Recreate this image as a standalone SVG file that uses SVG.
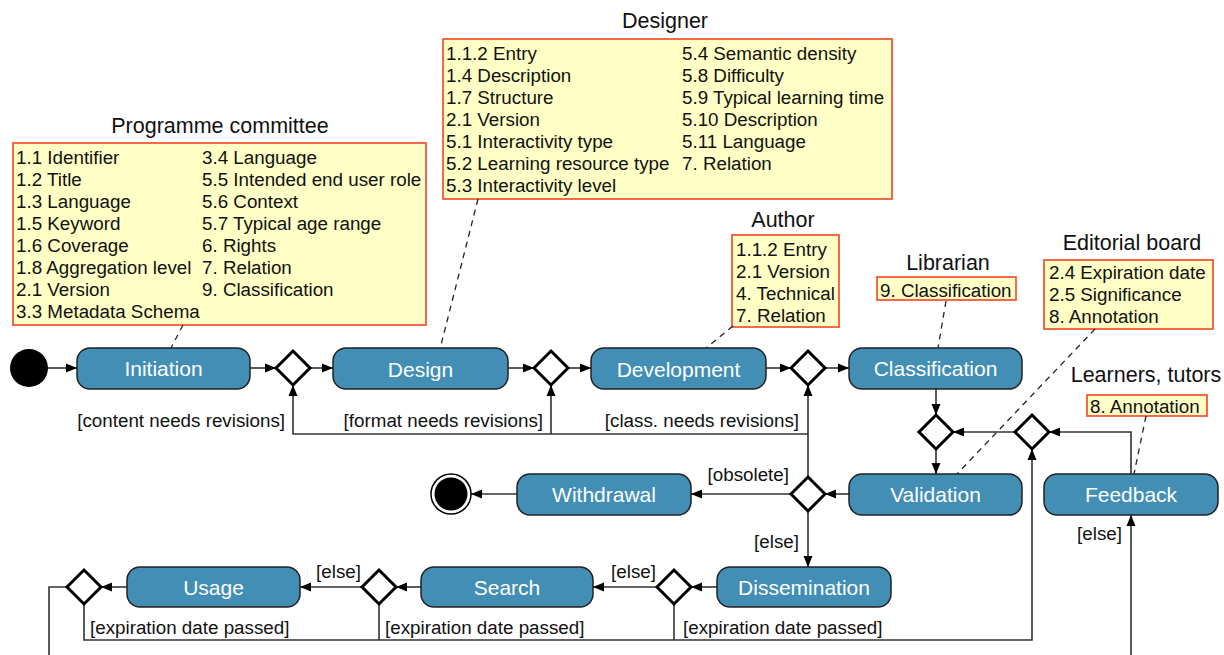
<svg xmlns="http://www.w3.org/2000/svg" width="1224" height="655" viewBox="0 0 1224 655">
<defs>
<marker id="arr" markerUnits="userSpaceOnUse" markerWidth="12" markerHeight="10" refX="11" refY="5" orient="auto">
<path d="M0,0.5 L11,5 L0,9.5 z" fill="#000"/>
</marker>
<style>
.node rect{fill:#428eb5;stroke:#222;stroke-width:1.5}
.node text{font-family:"Liberation Sans",Arial,sans-serif;font-size:21px;fill:#fff;text-anchor:middle}
.dia{fill:#fff;stroke:#000;stroke-width:3}
.con{fill:none;stroke:#333;stroke-width:1.6}
.dash{fill:none;stroke:#222;stroke-width:1.3;stroke-dasharray:6,5}
.note rect{fill:#ffffc6;stroke:#f2502c;stroke-width:1.7}
.note text{font-family:"Liberation Sans",Arial,sans-serif;font-size:18.8px;fill:#111}
.note .title{font-family:"Liberation Sans",Arial,sans-serif;font-size:21.5px;fill:#111;text-anchor:middle}
.guard{font-family:"Liberation Sans",Arial,sans-serif;font-size:18.8px;fill:#111}
.end{text-anchor:end}
</style>
</defs>
<rect width="1224" height="655" fill="#fff"/>

<!-- annotations -->
<g id="note-programme" class="note">
<text class="title" x="220" y="133">Programme committee</text>
<rect x="13" y="143" width="413" height="182"/>
<text x="16" y="164">1.1 Identifier</text>
<text x="16" y="186">1.2 Title</text>
<text x="16" y="208">1.3 Language</text>
<text x="16" y="230">1.5 Keyword</text>
<text x="16" y="252">1.6 Coverage</text>
<text x="16" y="274">1.8 Aggregation level</text>
<text x="16" y="296">2.1 Version</text>
<text x="16" y="318">3.3 Metadata Schema</text>
<text x="202" y="164">3.4 Language</text>
<text x="202" y="186">5.5 Intended end user role</text>
<text x="202" y="208">5.6 Context</text>
<text x="202" y="230">5.7 Typical age range</text>
<text x="202" y="252">6. Rights</text>
<text x="202" y="274">7. Relation</text>
<text x="202" y="296">9. Classification</text>
</g>
<g id="note-designer" class="note">
<text class="title" x="665" y="28">Designer</text>
<rect x="443" y="39" width="449" height="160"/>
<text x="446" y="60">1.1.2 Entry</text>
<text x="446" y="82">1.4 Description</text>
<text x="446" y="104">1.7 Structure</text>
<text x="446" y="126">2.1 Version</text>
<text x="446" y="148">5.1 Interactivity type</text>
<text x="446" y="170">5.2 Learning resource type</text>
<text x="446" y="192">5.3 Interactivity level</text>
<text x="682" y="60">5.4 Semantic density</text>
<text x="682" y="82">5.8 Difficulty</text>
<text x="682" y="104">5.9 Typical learning time</text>
<text x="682" y="126">5.10 Description</text>
<text x="682" y="148">5.11 Language</text>
<text x="682" y="170">7. Relation</text>
</g>
<g id="note-author" class="note">
<text class="title" x="783" y="227">Author</text>
<rect x="732" y="235" width="107" height="92"/>
<text x="736" y="256">1.1.2 Entry</text>
<text x="736" y="278">2.1 Version</text>
<text x="736" y="300">4. Technical</text>
<text x="736" y="322">7. Relation</text>
</g>
<g id="note-librarian" class="note">
<text class="title" x="948" y="270">Librarian</text>
<rect x="877" y="277" width="139" height="23"/>
<text x="880" y="297">9. Classification</text>
</g>
<g id="note-editorial" class="note">
<text class="title" x="1132" y="250">Editorial board</text>
<rect x="1044" y="260" width="169" height="69"/>
<text x="1049" y="279">2.4 Expiration date</text>
<text x="1049" y="301">2.5 Significance</text>
<text x="1049" y="323">8. Annotation</text>
</g>
<g id="note-learners" class="note">
<text class="title" x="1146" y="382">Learners, tutors</text>
<rect x="1087" y="395" width="120" height="21"/>
<text x="1090" y="413">8. Annotation</text>
</g>

<!-- connectors -->
<g id="connectors">
<path class="dash" d="M183,325 L171,348"/>
<path class="dash" d="M478,199 L440,349"/>
<path class="dash" d="M733,326 L706,348"/>
<path class="dash" d="M946,301 L938,348"/>
<path class="dash" d="M1095,329 L957,474"/>
<path class="dash" d="M1146,416 L1134,474"/>

<path class="con" d="M48,368 L77,368" marker-end="url(#arr)"/>
<path class="con" d="M250,368 L276,368" marker-end="url(#arr)"/>
<path class="con" d="M310,368 L333,368" marker-end="url(#arr)"/>
<path class="con" d="M508,368 L534,368" marker-end="url(#arr)"/>
<path class="con" d="M568,368 L591,368" marker-end="url(#arr)"/>
<path class="con" d="M766,368 L791,368" marker-end="url(#arr)"/>
<path class="con" d="M825,368 L849,368" marker-end="url(#arr)"/>
<path class="con" d="M936,389 L936,415" marker-end="url(#arr)"/>
<path class="con" d="M936,449 L936,474" marker-end="url(#arr)"/>
<path class="con" d="M1015,432 L953,432" marker-end="url(#arr)"/>
<path class="con" d="M1131,474 L1131,432 L1049,432" marker-end="url(#arr)"/>
<path class="con" d="M849,494 L825,494" marker-end="url(#arr)"/>
<path class="con" d="M808,477 L808,385" marker-end="url(#arr)"/>
<path class="con" d="M808,434 L293,434 L293,385" marker-end="url(#arr)"/>
<path class="con" d="M551,434 L551,385" marker-end="url(#arr)"/>
<path class="con" d="M791,494 L691,494" marker-end="url(#arr)"/>
<path class="con" d="M517,494 L471,494" marker-end="url(#arr)"/>
<path class="con" d="M808,511 L808,567" marker-end="url(#arr)"/>
<path class="con" d="M717,587 L691,587" marker-end="url(#arr)"/>
<path class="con" d="M657,587 L593,587" marker-end="url(#arr)"/>
<path class="con" d="M421,587 L396,587" marker-end="url(#arr)"/>
<path class="con" d="M362,587 L300,587" marker-end="url(#arr)"/>
<path class="con" d="M127,587 L101,587" marker-end="url(#arr)"/>
<path class="con" d="M67,587 L49,587 L49,656"/>
<path class="con" d="M84,604 L84,640 L1032,640 L1032,449" marker-end="url(#arr)"/>
<path class="con" d="M379,604 L379,640"/>
<path class="con" d="M674,604 L674,640"/>
<path class="con" d="M1131,656 L1131,515" marker-end="url(#arr)"/>

<text class="guard end" x="285" y="427">[content needs revisions]</text>
<text class="guard end" x="543" y="427">[format needs revisions]</text>
<text class="guard end" x="799" y="427">[class. needs revisions]</text>
<text class="guard end" x="789" y="481">[obsolete]</text>
<text class="guard end" x="799" y="548">[else]</text>
<text class="guard end" x="656" y="578">[else]</text>
<text class="guard end" x="361" y="578">[else]</text>
<text class="guard end" x="1122" y="540">[else]</text>
<text class="guard" x="90" y="634">[expiration date passed]</text>
<text class="guard" x="385" y="634">[expiration date passed]</text>
<text class="guard" x="683" y="634">[expiration date passed]</text>
</g>

<!-- start / end -->
<g id="start"><circle cx="29" cy="368" r="19" fill="#000"/></g>
<g id="end"><circle cx="451" cy="494" r="20" fill="#fff" stroke="#000" stroke-width="1.5"/><circle cx="451" cy="494" r="16.5" fill="#000"/></g>

<!-- decision nodes -->
<g id="d1"><path class="dia" d="M293,351 L310,368 L293,385 L276,368 z"/></g>
<g id="d2"><path class="dia" d="M551,351 L568,368 L551,385 L534,368 z"/></g>
<g id="d3"><path class="dia" d="M808,351 L825,368 L808,385 L791,368 z"/></g>
<g id="d4"><path class="dia" d="M936,415 L953,432 L936,449 L919,432 z"/></g>
<g id="d5"><path class="dia" d="M1032,415 L1049,432 L1032,449 L1015,432 z"/></g>
<g id="d6"><path class="dia" d="M808,477 L825,494 L808,511 L791,494 z"/></g>
<g id="d7"><path class="dia" d="M674,570 L691,587 L674,604 L657,587 z"/></g>
<g id="d8"><path class="dia" d="M379,570 L396,587 L379,604 L362,587 z"/></g>
<g id="d9"><path class="dia" d="M84,570 L101,587 L84,604 L67,587 z"/></g>

<!-- activity nodes -->
<g id="initiation" class="node"><rect x="77" y="348" width="173" height="41" rx="13"/><text x="163.5" y="376">Initiation</text></g>
<g id="design" class="node"><rect x="333" y="348" width="175" height="41" rx="13"/><text x="420.5" y="377">Design</text></g>
<g id="development" class="node"><rect x="591" y="348" width="175" height="41" rx="13"/><text x="678.5" y="377">Development</text></g>
<g id="classification" class="node"><rect x="849" y="348" width="173" height="41" rx="13"/><text x="935.5" y="376">Classification</text></g>
<g id="validation" class="node"><rect x="849" y="474" width="173" height="41" rx="13"/><text x="935.5" y="502">Validation</text></g>
<g id="feedback" class="node"><rect x="1044" y="474" width="174" height="41" rx="13"/><text x="1131" y="502">Feedback</text></g>
<g id="withdrawal" class="node"><rect x="517" y="474" width="174" height="41" rx="13"/><text x="604" y="502">Withdrawal</text></g>
<g id="dissemination" class="node"><rect x="717" y="567" width="174" height="40" rx="13"/><text x="804" y="595">Dissemination</text></g>
<g id="search" class="node"><rect x="421" y="567" width="172" height="40" rx="13"/><text x="507" y="595">Search</text></g>
<g id="usage" class="node"><rect x="127" y="567" width="173" height="40" rx="13"/><text x="213.5" y="595">Usage</text></g>
</svg>
